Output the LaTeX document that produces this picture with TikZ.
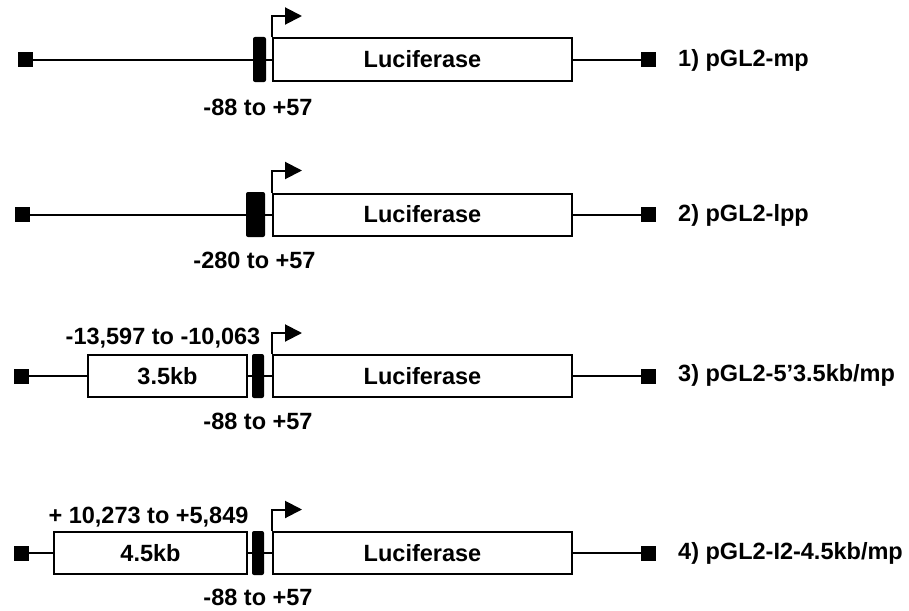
\documentclass[tikz,border=0pt]{standalone}
\usepackage{fontspec}
\setmainfont{Liberation Sans}
\usetikzlibrary{arrows.meta}
\newcommand{\labfont}{\fontsize{23.5}{28}\selectfont\bfseries}
\begin{document}
\begin{tikzpicture}[x=1pt,y=-1pt,
  endsq/.style={fill=black, minimum width=15pt, minimum height=15pt, inner sep=0pt},
  prom/.style={fill=black, rounded corners=2pt, minimum height=45pt, inner sep=0pt},
  gene/.style={draw, line width=2pt, fill=white, minimum height=42pt, inner sep=0pt, font=\labfont},
  lab/.style={font=\labfont, inner sep=0pt},
  link/.style={line width=2pt},
  tss/.style={line width=2pt, -{Triangle[length=17pt,width=17pt]}}]
\useasboundingbox (0,0) rectangle (909,610);

% ---------- Row 1 ----------
\node[endsq] (sqL1) at (25.5,59.5) {};
\node[prom, minimum width=13pt] (prom1) at (259.5,59.5) {};
\node[gene, minimum width=299pt] (luc1) at (422.5,59.5) {Luciferase};
\node[endsq] (sqR1) at (648.5,59.5) {};
\node[lab, anchor=west] (name1) at (678,60) {1) pGL2-mp};
\node[lab] (pos1) at (258,107) {-88 to +57};
\coordinate (t1) at (302,16);
\draw[link] (sqL1) -- (prom1);
\draw[link] (prom1) -- (luc1);
\draw[link] (luc1) -- (sqR1);
\draw[tss] (luc1.north west) |- (t1);

% ---------- Row 2 ----------
\node[endsq] (sqL2) at (22,214.5) {};
\node[prom, minimum width=19pt] (prom2) at (255.5,214.5) {};
\node[gene, minimum width=299pt] (luc2) at (422.5,214.5) {Luciferase};
\node[endsq] (sqR2) at (648.5,214.5) {};
\node[lab, anchor=west] (name2) at (678,215) {2) pGL2-lpp};
\node[lab] (pos2) at (254.5,260) {-280 to +57};
\coordinate (t2) at (302,170.5);
\draw[link] (sqL2) -- (prom2);
\draw[link] (prom2) -- (luc2);
\draw[link] (luc2) -- (sqR2);
\draw[tss] (luc2.north west) |- (t2);

% ---------- Row 3 ----------
\node[endsq] (sqL3) at (21.5,376) {};
\node[gene, minimum width=159pt] (enh3) at (167.5,376) {3.5kb};
\node[prom, minimum width=12pt, minimum height=44pt] (prom3) at (258,376) {};
\node[gene, minimum width=299pt] (luc3) at (422.5,376) {Luciferase};
\node[endsq] (sqR3) at (648.5,376) {};
\node[lab, anchor=west] (name3) at (678,375) {3) pGL2-5’3.5kb/mp};
\node[lab] (up3) at (163,338) {-13,597 to -10,063};
\node[lab] (pos3) at (258,421) {-88 to +57};
\coordinate (t3) at (302,333);
\draw[link] (sqL3) -- (enh3);
\draw[link] (enh3) -- (prom3);
\draw[link] (prom3) -- (luc3);
\draw[link] (luc3) -- (sqR3);
\draw[tss] (luc3.north west) |- (t3);

% ---------- Row 4 ----------
\node[endsq] (sqL4) at (21.5,553) {};
\node[gene, minimum width=193pt] (enh4) at (150.5,553) {4.5kb};
\node[prom, minimum width=12pt, minimum height=44pt] (prom4) at (258,553) {};
\node[gene, minimum width=299pt] (luc4) at (422.5,553) {Luciferase};
\node[endsq] (sqR4) at (648.5,553) {};
\node[lab, anchor=west] (name4) at (678,553) {4) pGL2-I2-4.5kb/mp};
\node[lab] (up4) at (148.5,517) {+ 10,273 to +5,849};
\node[lab] (pos4) at (258,597) {-88 to +57};
\coordinate (t4) at (302,509.5);
\draw[link] (sqL4) -- (enh4);
\draw[link] (enh4) -- (prom4);
\draw[link] (prom4) -- (luc4);
\draw[link] (luc4) -- (sqR4);
\draw[tss] (luc4.north west) |- (t4);
\end{tikzpicture}
\end{document}
